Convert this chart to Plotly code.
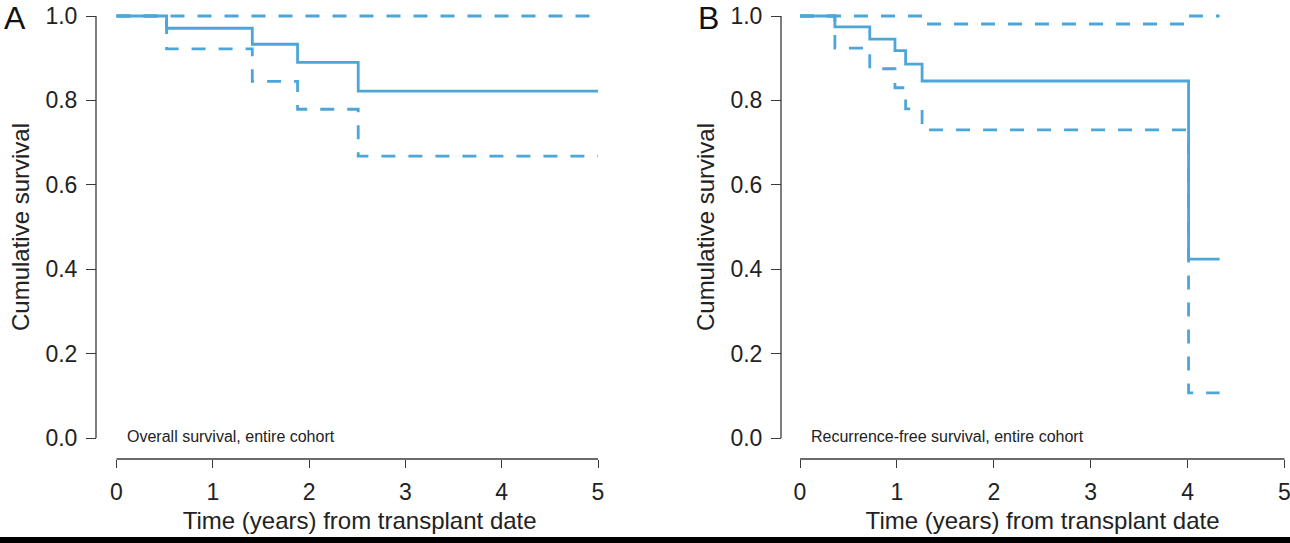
import plotly.graph_objects as go

# ---- data ----
x_ticks = [0, 1, 2, 3, 4, 5]
y_ticks = [0.0, 0.2, 0.4, 0.6, 0.8, 1.0]
y_tick_labels = ["0.0", "0.2", "0.4", "0.6", "0.8", "1.0"]

# Panel A: overall survival
times_A = [0.52, 1.41, 1.88, 2.51]
end_A = 5.0
surv_A = [0.971, 0.933, 0.890, 0.822]
lower_A = [0.922, 0.845, 0.779, 0.668]
upper_A = [1.0, 1.0, 1.0, 1.0]

# Panel B: recurrence-free survival
times_B = [0.36, 0.72, 0.98, 1.09, 1.26, 4.01]
end_B = 4.33
surv_B = [0.974, 0.945, 0.918, 0.886, 0.846, 0.424]
lower_B = [0.924, 0.875, 0.830, 0.780, 0.730, 0.107]
upper_B = [1.0, 1.0, 1.0, 1.0, 0.981, 1.0]

label_A = "Overall survival, entire cohort"
label_B = "Recurrence-free survival, entire cohort"
x_title = "Time (years) from transplant date"
y_title = "Cumulative survival"

# ---- layout geometry (pixels) ----
W, H = 1290, 543
COLOR = "#4CA6D8"
AXC = "#3a3a3a"
FONT = "Liberation Sans, Arial, Helvetica, sans-serif"

y0px, y1px = 438.0, 16.0
ky = (y0px - y1px)
yr = [-0.02, 1.02]
ydom = [1 - (y0px - yr[0] * ky) / H, 1 - (y0px - yr[1] * ky) / H]
xaxis_y_px = 459.0

panels = [
    dict(x0px=116.5, kx=96.3, yline_px=96.0, times=times_A, end=end_A,
         surv=surv_A, lo=lower_A, hi=upper_A, label=label_A, letter="A",
         letter_x=15, label_x=125),
    dict(x0px=800.0, kx=96.9, yline_px=781.0, times=times_B, end=end_B,
         surv=surv_B, lo=lower_B, hi=upper_B, label=label_B, letter="B",
         letter_x=708, label_x=809),
]

fig = go.Figure()
xr = [-0.05, 5.1]


def step(times, vals, end):
    xs = [0.0] + list(times) + [end]
    ys = [1.0] + list(vals) + [vals[-1]]
    return xs, ys


shapes = []
annotations = []
for i, p in enumerate(panels, start=1):
    xa = "x" if i == 1 else f"x{i}"
    ya = "y" if i == 1 else f"y{i}"
    xdom = [(p["x0px"] + xr[0] * p["kx"]) / W, (p["x0px"] + xr[1] * p["kx"]) / W]
    xdom = [max(0, xdom[0]), min(1, xdom[1])]
    xr_eff = [(xdom[0] * W - p["x0px"]) / p["kx"], (xdom[1] * W - p["x0px"]) / p["kx"]]

    for vals, dash in [(p["hi"], "14px,13px"), (p["lo"], "14px,13px"), (p["surv"], "solid")]:
        xs, ys = step(p["times"], vals, p["end"])
        fig.add_trace(go.Scatter(x=xs, y=ys, mode="lines", line_shape="hv",
                                 line=dict(color=COLOR, width=2.8, dash=dash),
                                 xaxis=xa, yaxis=ya, showlegend=False,
                                 hoverinfo="skip"))

    fig.layout[f"xaxis{'' if i == 1 else i}"] = dict(
        domain=xdom, range=xr_eff, anchor="free", automargin=False,
        position=1 - xaxis_y_px / H, showgrid=False, zeroline=False,
        showline=False, tickvals=x_ticks, ticks="outside", ticklen=8,
        tickwidth=1.3, tickcolor=AXC, ticklabelstandoff=4,
        ticklabeloverflow="allow",
        tickfont=dict(family=FONT, size=23, color="#222"),
        title=dict(text=x_title, standoff=8,
                   font=dict(family=FONT, size=24, color="#222")),
    )
    fig.layout[f"yaxis{'' if i == 1 else i}"] = dict(
        domain=ydom, range=yr, anchor="free", automargin=False,
        position=p["yline_px"] / W, showgrid=False, zeroline=False,
        showline=False, tickvals=y_ticks, ticktext=y_tick_labels,
        ticks="outside", ticklen=10, tickwidth=1.3, tickcolor=AXC,
        ticklabelstandoff=4,
        tickfont=dict(family=FONT, size=23, color="#222"),
        title=dict(text=y_title, standoff=8,
                   font=dict(family=FONT, size=24, color="#222")),
    )
    # detached R-style axis lines
    shapes.append(dict(type="line", xref="paper", yref=ya,
                       x0=p["yline_px"] / W, x1=p["yline_px"] / W, y0=0, y1=1,
                       line=dict(color=AXC, width=1.3)))
    shapes.append(dict(type="line", xref=xa, yref="paper", x0=0, x1=5,
                       y0=1 - xaxis_y_px / H, y1=1 - xaxis_y_px / H,
                       line=dict(color=AXC, width=1.3)))
    annotations.append(dict(text=p["label"], xref="paper", yref="paper",
                            x=p["label_x"] / W, y=1 - 436 / H, xanchor="left",
                            yanchor="middle", showarrow=False,
                            font=dict(family=FONT, size=16, color="#222")))
    annotations.append(dict(text=p["letter"], xref="paper", yref="paper",
                            x=p["letter_x"] / W, y=1 - 18 / H, xanchor="center",
                            yanchor="middle", showarrow=False,
                            font=dict(family=FONT, size=32, color="#111")))

shapes.append(dict(type="rect", xref="paper", yref="paper", x0=0, x1=1,
                   y0=0, y1=6 / H, fillcolor="black", line=dict(width=0)))

fig.update_layout(width=W, height=H, margin=dict(l=0, r=0, t=0, b=0, autoexpand=False),
                  paper_bgcolor="white", plot_bgcolor="white",
                  shapes=shapes, annotations=annotations)

fig.write_html("out.html", config={"displayModeBar": False},
               post_script="document.body.style.margin='0px';document.body.style.overflow='hidden';")
